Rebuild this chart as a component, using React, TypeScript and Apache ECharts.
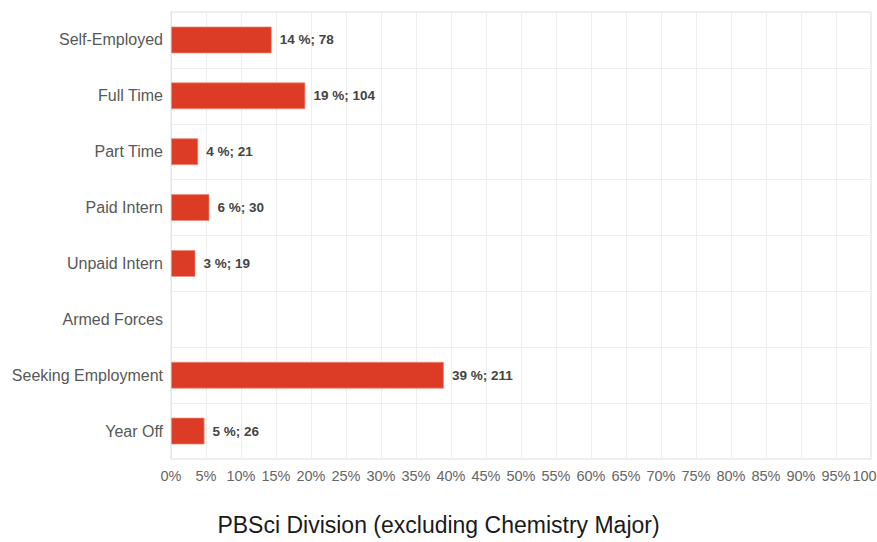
import React, { useEffect, useRef } from "react";
import * as echarts from "echarts";

const categories = [
  "Self-Employed",
  "Full Time",
  "Part Time",
  "Paid Intern",
  "Unpaid Intern",
  "Armed Forces",
  "Seeking Employment",
  "Year Off",
];
// bar length in percent
const percentValues = [14.4, 19.2, 3.9, 5.5, 3.5, 0, 39.0, 4.8];
// rounded percent shown in the label
const percentLabels = [14, 19, 4, 6, 3, 0, 39, 5];
const counts = [78, 104, 21, 30, 19, 0, 211, 26];
const titleText = "PBSci Division (excluding Chemistry Major)";

export default function App() {
  const ref = useRef<HTMLDivElement>(null);
  useEffect(() => {
    if (!ref.current) return;
    document.body.style.margin = "0";
    const chart = echarts.init(ref.current, undefined, { renderer: "svg" });
    const font = "'Liberation Sans', Arial, sans-serif";
    chart.setOption({
      animation: false,
      backgroundColor: "#ffffff",
      textStyle: { fontFamily: font },
      grid: {
        left: 171,
        right: 6,
        top: 12,
        bottom: 83,
        show: true,
        borderColor: "#dcdcdc",
        borderWidth: 1,
        containLabel: false,
        outerBoundsMode: "none",
      },
      xAxis: {
        type: "value",
        min: 0,
        max: 100,
        interval: 5,
        axisLine: { show: false },
        axisTick: { show: false },
        splitLine: { show: true, lineStyle: { color: "#eeeeee", width: 1 } },
        axisLabel: {
          formatter: "{value}%",
          color: "#666666",
          fontSize: 14.5,
          fontFamily: font,
          margin: 9,
        },
      },
      yAxis: {
        type: "category",
        data: categories,
        inverse: true,
        axisLine: { show: true, lineStyle: { color: "#e6e6e6" } },
        axisTick: { show: false },
        splitLine: { show: true, lineStyle: { color: "#eeeeee", width: 1 } },
        axisLabel: {
          color: "#585858",
          fontSize: 16,
          fontFamily: font,
          margin: 8,
        },
      },
      series: [
        {
          type: "bar",
          data: percentValues.map((v, i) => ({
            value: v,
            label: { show: counts[i] > 0 },
            itemStyle: counts[i] > 0 ? {} : { borderWidth: 0 },
          })),
          barWidth: 27,
          itemStyle: {
            color: "#dc3b25",
            borderColor: "rgba(240,140,120,0.7)",
            borderWidth: 1,
          },
          label: {
            show: true,
            position: "right",
            distance: 8,
            color: "#444444",
            fontWeight: "bold",
            fontSize: 13.5,
            fontFamily: font,
            formatter: (p: any) =>
              `${percentLabels[p.dataIndex]} %; ${counts[p.dataIndex]}`,
          },
        },
      ],
      graphic: [
        {
          type: "text",
          left: "center",
          top: 513,
          style: {
            text: titleText,
            font: `23px ${font}`,
            fill: "#1a1a1a",
          },
        },
      ],
    });
    return () => chart.dispose();
  }, []);
  return (
    <div
      ref={ref}
      style={{ position: "absolute", left: 0, top: 0, width: 877, height: 542 }}
    />
  );
}
